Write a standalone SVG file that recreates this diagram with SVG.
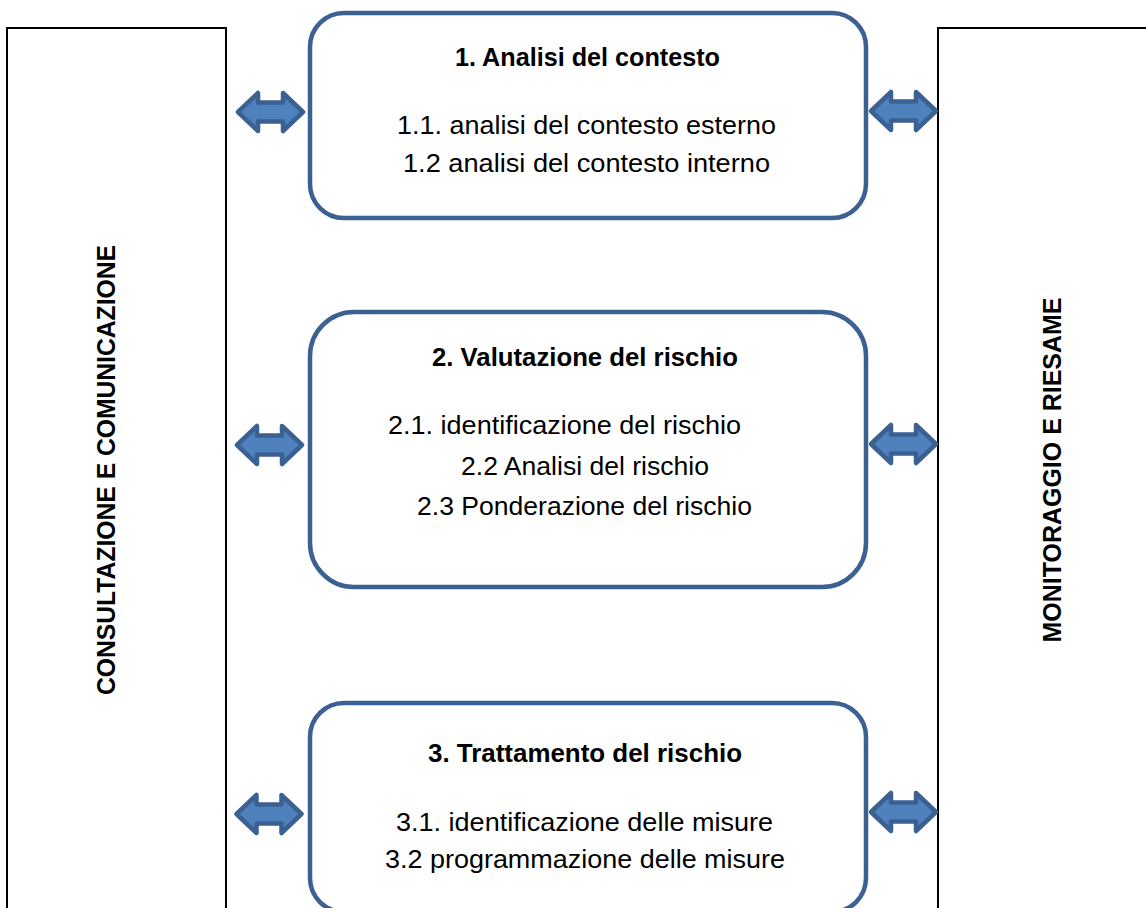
<svg xmlns="http://www.w3.org/2000/svg" width="1146" height="908" viewBox="0 0 1146 908">
<style>
.panel{fill:#ffffff;stroke:#000000;stroke-width:2}
.box{fill:#ffffff;stroke:#3B6092;stroke-width:4.5}
.arrow{fill:#4F81BD;stroke:#3B6092;stroke-width:4.5;stroke-linejoin:round}
.t{font-family:"Liberation Sans",Arial,sans-serif;fill:#000000}
.title{font-size:25px;font-weight:bold}
.line{font-size:26.5px}
.vert{font-size:26px;font-weight:bold;text-anchor:middle}
</style>
<defs>
<path id="lr" class="arrow" d="M -32.5,0 L -12.5,-19 L -12.5,-9.5 L 12.5,-9.5 L 12.5,-19 L 32.5,0 L 12.5,19 L 12.5,9.5 L -12.5,9.5 L -12.5,19 Z"/>
</defs>
<rect width="1146" height="908" fill="#ffffff"/>

<g id="consultazione">
<rect class="panel" x="7" y="28" width="219" height="900"/>
<text class="t vert" transform="translate(115,470) rotate(-90)" textLength="450" lengthAdjust="spacingAndGlyphs">CONSULTAZIONE E COMUNICAZIONE</text>
</g>

<g id="monitoraggio">
<rect class="panel" x="938" y="28" width="230" height="900"/>
<text class="t vert" transform="translate(1061,470) rotate(-90)" textLength="345" lengthAdjust="spacingAndGlyphs">MONITORAGGIO E RIESAME</text>
</g>

<g id="box1">
<rect class="box" x="310" y="13" width="556" height="205" rx="34" ry="34"/>
<text class="t title" x="455" y="66" textLength="265" lengthAdjust="spacingAndGlyphs">1. Analisi del contesto</text>
<text class="t line" x="397" y="134" textLength="379" lengthAdjust="spacingAndGlyphs">1.1. analisi del contesto esterno</text>
<text class="t line" x="403" y="172" textLength="367" lengthAdjust="spacingAndGlyphs">1.2 analisi del contesto interno</text>
</g>

<g id="box2">
<rect class="box" x="310" y="312" width="556" height="275" rx="44" ry="44"/>
<text class="t title" x="432" y="366" textLength="306" lengthAdjust="spacingAndGlyphs">2. Valutazione del rischio</text>
<text class="t line" x="388" y="434" textLength="353" lengthAdjust="spacingAndGlyphs">2.1. identificazione del rischio</text>
<text class="t line" x="461" y="475" textLength="248" lengthAdjust="spacingAndGlyphs">2.2 Analisi del rischio</text>
<text class="t line" x="417" y="515" textLength="335" lengthAdjust="spacingAndGlyphs">2.3 Ponderazione del rischio</text>
</g>

<g id="box3">
<rect class="box" x="310" y="703" width="556" height="209" rx="34" ry="34"/>
<text class="t title" x="428" y="762" textLength="314" lengthAdjust="spacingAndGlyphs">3. Trattamento del rischio</text>
<text class="t line" x="396" y="831" textLength="377" lengthAdjust="spacingAndGlyphs">3.1. identificazione delle misure</text>
<text class="t line" x="385" y="868" textLength="400" lengthAdjust="spacingAndGlyphs">3.2 programmazione delle misure</text>
</g>

<g id="connectors">
<use href="#lr" x="270.5" y="112"/>
<use href="#lr" x="903.5" y="111"/>
<use href="#lr" x="269.5" y="445"/>
<use href="#lr" x="903.5" y="444"/>
<use href="#lr" x="269" y="814"/>
<use href="#lr" x="903.5" y="812"/>
</g>
</svg>
